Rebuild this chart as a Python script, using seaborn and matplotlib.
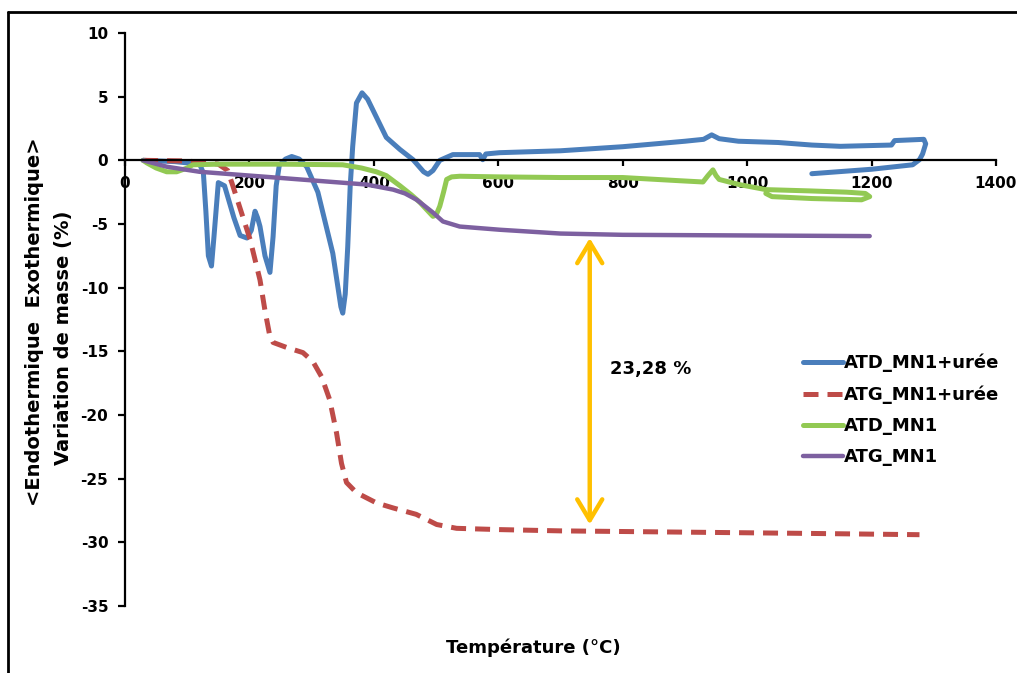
import matplotlib
matplotlib.use("Agg")
import matplotlib.pyplot as plt
import seaborn as sns
from matplotlib.lines import Line2D

# ATD_MN1+urée (blue)
atd_uree_t = [29, 80, 120, 126, 130, 134, 139, 143, 150, 160, 175, 185, 196, 203, 209,
              213, 217, 225, 233, 238, 243, 248, 258, 268, 280, 292, 310, 334, 347, 350,
              354, 358, 362, 366, 372, 381, 390, 404, 420, 442, 463, 480, 487, 495, 506,
              527, 570, 575, 580, 602, 700, 800, 900, 930, 943, 955, 986, 1050, 1104, 1150,
              1190, 1232, 1237, 1260, 1284, 1287, 1282, 1277, 1266, 1200, 1104]
atd_uree_v = [0.0, -0.1, -0.3, -1.0, -4.0, -7.5, -8.3, -6.0, -1.75, -2.0, -4.5, -5.9, -6.1, -5.5, -4.0,
              -4.5, -5.2, -7.5, -8.8, -6.0, -2.0, -0.4, 0.1, 0.3, 0.1, -0.5, -2.5, -7.3, -11.5, -12.0,
              -10.5, -6.8, -2.0, 1.1, 4.5, 5.3, 4.8, 3.4, 1.8, 0.85, 0.05, -0.9, -1.1, -0.8, 0.0,
              0.45, 0.45, 0.05, 0.5, 0.6, 0.75, 1.07, 1.5, 1.65, 2.0, 1.7, 1.5, 1.4, 1.2, 1.1,
              1.15, 1.2, 1.55, 1.6, 1.65, 1.3, 0.5, 0.05, -0.35, -0.7, -1.05]

# ATG_MN1+urée (red dashed)
atg_uree_t = [29, 100, 150, 165, 172, 201, 217, 225, 232, 238, 260, 286, 302, 316, 329,
              340, 348, 356, 372, 404, 431, 468, 501, 533, 602, 700, 900, 1100, 1277]
atg_uree_v = [0.0, -0.05, -0.3, -0.8, -1.8, -6.2, -9.4, -11.8, -13.6, -14.3, -14.7, -15.1, -15.8, -17.0, -18.8,
              -21.4, -23.8, -25.3, -26.1, -26.9, -27.3, -27.8, -28.6, -28.9, -29.0, -29.1, -29.2, -29.3, -29.4]

# ATD_MN1 (green)
atd_t = [29, 35, 50, 67, 83, 100, 109, 150, 250, 350, 380, 404, 420, 442, 460,
         474, 495, 500, 506, 512, 517, 525, 538, 602, 700, 800, 891, 929, 937, 945,
         950, 955, 987, 1030, 1100, 1160, 1190, 1197, 1184, 1104, 1040, 1030]
atd_v = [0.0, -0.2, -0.6, -0.9, -0.9, -0.6, -0.35, -0.3, -0.3, -0.35, -0.6, -0.9, -1.2, -2.0, -2.7,
         -3.3, -4.4, -4.3, -3.6, -2.5, -1.5, -1.3, -1.25, -1.3, -1.35, -1.35, -1.6, -1.7, -1.2, -0.75,
         -1.2, -1.5, -1.9, -2.3, -2.4, -2.5, -2.6, -2.85, -3.1, -3.0, -2.85, -2.6]

# ATG_MN1 (purple)
atg_t = [29, 67, 120, 228, 334, 388, 431, 450, 469, 495, 511, 538, 602, 700, 800, 1000, 1197]
atg_v = [0.0, -0.5, -0.9, -1.3, -1.7, -1.9, -2.3, -2.6, -3.1, -4.1, -4.8, -5.2, -5.45, -5.75, -5.85, -5.9, -5.95]

sns.set_style("white")
plt.rcParams["font.family"] = ["DejaVu Sans"]
plt.rcParams["font.weight"] = "bold"
plt.rcParams["axes.unicode_minus"] = False
plt.rcParams["text.color"] = "black"
plt.rcParams["xtick.color"] = "black"
plt.rcParams["ytick.color"] = "black"

fig = plt.figure(figsize=(10.17, 6.73), dpi=100)
ax = fig.add_axes([125 / 1017, 1 - 606 / 673, 871 / 1017, 573 / 673])

sns.lineplot(x=atd_uree_t, y=atd_uree_v, sort=False, estimator=None, ax=ax,
             color="#4A7EBB", linewidth=3.6, label="ATD_MN1+urée")
sns.lineplot(x=atg_uree_t, y=atg_uree_v, sort=False, estimator=None, ax=ax,
             color="#BE4B48", linewidth=3.6, linestyle=(0, (3, 1.8)), label="ATG_MN1+urée")
sns.lineplot(x=atd_t, y=atd_v, sort=False, estimator=None, ax=ax,
             color="#92C953", linewidth=3.6, label="ATD_MN1")
sns.lineplot(x=atg_t, y=atg_v, sort=False, estimator=None, ax=ax,
             color="#7D60A0", linewidth=3.2, label="ATG_MN1")

ax.set_xlim(0, 1400)
ax.set_ylim(-35, 10)
ax.set_xticks(range(0, 1401, 200))
ax.set_yticks(range(-35, 11, 5))

for s in ["top", "right"]:
    ax.spines[s].set_visible(False)
ax.spines["bottom"].set_position(("data", 0))
ax.spines["left"].set_linewidth(1.6)
ax.spines["bottom"].set_linewidth(1.6)
ax.spines["left"].set_color("black")
ax.spines["bottom"].set_color("black")
ax.tick_params(axis="x", direction="out", length=4, width=1.6, pad=7, labelsize=11, bottom=True)
ax.tick_params(axis="y", direction="out", length=5, width=1.6, pad=7, labelsize=11, left=True)
for lab in ax.get_xticklabels() + ax.get_yticklabels():
    lab.set_fontweight("bold")

# double arrow + annotation
ax.annotate("", xy=(747, -6.1), xytext=(747, -28.6),
            arrowprops=dict(arrowstyle="<->,head_length=1.0,head_width=0.6", color="#FFC000",
                            lw=3.2, mutation_scale=15, shrinkA=0, shrinkB=0))
ax.text(779, -16.4, "23,28 %", fontsize=13, fontweight="bold", ha="left", va="center")

leg = ax.legend(loc="upper left", bbox_to_anchor=(803 / 1017, 1 - 354 / 673),
                bbox_transform=fig.transFigure, frameon=False, fontsize=13,
                handlelength=2.2, handletextpad=0.05, labelspacing=0.72,
                borderpad=0, borderaxespad=0)
for t in leg.get_texts():
    t.set_fontweight("bold")
    t.set_color("black")

ax.set_xlabel("")
ax.set_ylabel("")
fig.text(35 / 1017, 1 - 322 / 673, "<Endothermique  Exothermique>", rotation=90,
         ha="center", va="center", fontsize=14, fontweight="bold")
fig.text(63 / 1017, 1 - 338 / 673, "Variation de masse (%)", rotation=90,
         ha="center", va="center", fontsize=14, fontweight="bold")
fig.text(533 / 1017, 1 - 648 / 673, "Température (°C)", ha="center", va="center",
         fontsize=13, fontweight="bold")

# chart area border (top and left edges visible)
fig.add_artist(Line2D([8 / 1017, 8 / 1017], [0, 1 - 12 / 673], transform=fig.transFigure,
                      color="black", linewidth=2))
fig.add_artist(Line2D([8 / 1017, 1], [1 - 12 / 673, 1 - 12 / 673], transform=fig.transFigure,
                      color="black", linewidth=2))

fig.savefig("out.png", dpi=100)
